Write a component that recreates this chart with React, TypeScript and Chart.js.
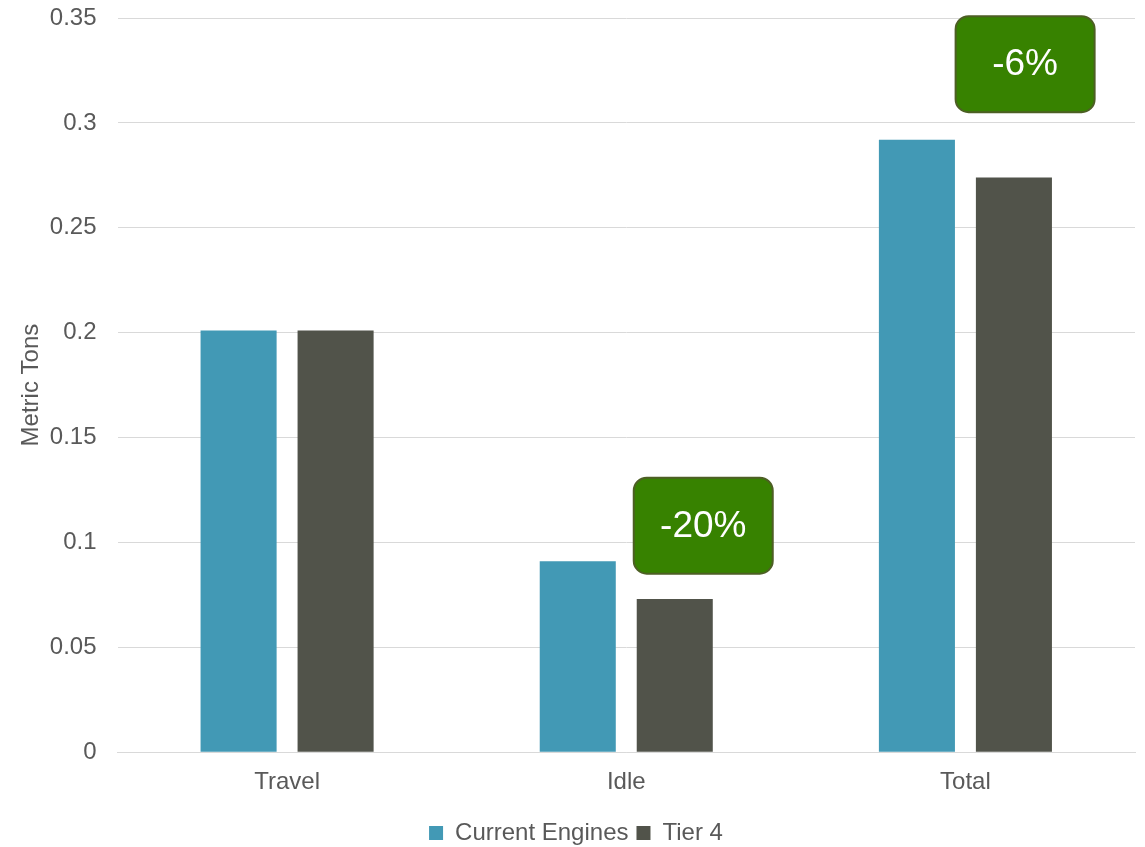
import React, { useEffect, useRef } from "react";
import { Chart, registerables } from "chart.js";

Chart.register(...registerables);

const categories = ["Travel", "Idle", "Total"];
const currentEngines = [0.201, 0.091, 0.292];
const tier4 = [0.201, 0.073, 0.274];
const yTicks = [0, 0.05, 0.1, 0.15, 0.2, 0.25, 0.3, 0.35];
const calloutLabels = ["-20%", "-6%"];
const calloutCategory = [1, 2];
const calloutValue = [0.108, 0.328];
const calloutOffset = [0.227, 0.176];

const FONT = "'Liberation Sans', Arial, sans-serif";

const calloutPlugin = {
  id: "callouts",
  afterDatasetsDraw(chart: any) {
    const { ctx, scales } = chart;
    const xs = scales.x;
    const ys = scales.y;
    const catW = (xs.right - xs.left) / categories.length;
    calloutLabels.forEach((label, i) => {
      const cx = xs.getPixelForValue(calloutCategory[i]) + calloutOffset[i] * catW;
      const cy = ys.getPixelForValue(calloutValue[i]);
      const w = 139;
      const h = 96;
      ctx.save();
      ctx.beginPath();
      ctx.roundRect(cx - w / 2, cy - h / 2, w, h, 13);
      ctx.fillStyle = "#378200";
      ctx.fill();
      ctx.lineWidth = 2;
      ctx.strokeStyle = "#4d5f24";
      ctx.stroke();
      ctx.fillStyle = "#ffffff";
      ctx.font = `37px ${FONT}`;
      ctx.textAlign = "center";
      ctx.textBaseline = "middle";
      ctx.fillText(label, cx, cy + 1);
      ctx.restore();
    });
  },
};

export default function App() {
  const ref = useRef<HTMLCanvasElement>(null);
  useEffect(() => {
    document.body.style.margin = "0";
    const chart = new Chart(ref.current!, {
      type: "bar",
      data: {
        labels: categories,
        datasets: [
          {
            label: "Current Engines",
            data: currentEngines,
            backgroundColor: "#4299b5",
            categoryPercentage: 0.572,
            barPercentage: 0.784,
          },
          {
            label: "Tier 4",
            data: tier4,
            backgroundColor: "#51534a",
            categoryPercentage: 0.572,
            barPercentage: 0.784,
          },
        ],
      },
      options: {
        animation: false,
        responsive: false,
        maintainAspectRatio: false,
        layout: { padding: { top: 18, right: 10, left: 17, bottom: -8 } },
        plugins: {
          legend: {
            position: "bottom",
            labels: {
              boxWidth: 14,
              boxHeight: 14,
              padding: 8,
              color: "#595959",
              font: { family: FONT, size: 24 },
            },
          },
          tooltip: { enabled: false },
        },
        scales: {
          x: {
            grid: { display: false, drawTicks: false },
            border: { display: true, color: "#d9d9d9", width: 1 },
            ticks: {
              color: "#595959",
              padding: 16,
              font: { family: FONT, size: 24 },
            },
          },
          y: {
            min: 0,
            max: 0.35,
            afterBuildTicks(axis: any) {
              axis.ticks = yTicks.map((v) => ({ value: v }));
            },
            grid: {
              color: "#d9d9d9",
              drawTicks: true,
              tickLength: 21,
              tickColor: "rgba(0,0,0,0)",
              lineWidth: 1,
            },
            border: { display: false },
            ticks: {
              color: "#595959",
              padding: 0,
              font: { family: FONT, size: 24 },
              callback: (v: any) => String(Math.round(Number(v) * 100) / 100),
            },
            title: {
              display: true,
              text: "Metric Tons",
              color: "#595959",
              font: { family: FONT, size: 24 },
              padding: { top: 0, bottom: 4 },
            },
          },
        },
      },
      plugins: [calloutPlugin],
    } as any);
    return () => chart.destroy();
  }, []);
  return (
    <div style={{ position: "absolute", left: 0, top: 0, width: 1145, height: 847, background: "#fff" }}>
      <canvas ref={ref} width={1145} height={847} />
    </div>
  );
}
